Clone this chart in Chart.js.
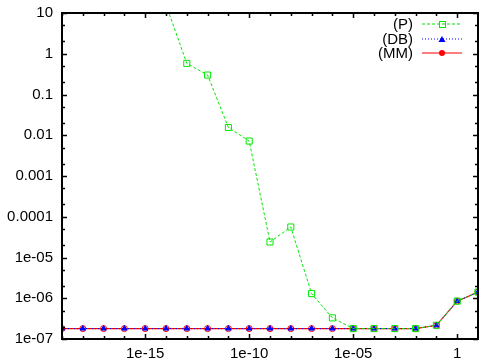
<!DOCTYPE html>
<html>
<head>
  <title>Log-log error plot</title>
  <style>
    html, body { margin: 0; padding: 0; background: #fff; }
    #wrap { width: 479px; height: 362px; }
  </style>
</head>
<body>
  <div id="wrap"><canvas id="errChart"></canvas></div>

  <script src="https://cdn.jsdelivr.net/npm/chart.js"></script>
  <script>
    // x positions: one per decade, 1e-19 .. 10
    const xValues = [1e-19, 1e-18, 1e-17, 1e-16, 1e-15, 1e-14, 1e-13, 1e-12, 1e-11, 1e-10,
                     1e-9, 1e-8, 1e-7, 1e-6, 1e-5, 1e-4, 1e-3, 1e-2, 1e-1, 1, 10];
    const pValues = [null, null, null, null, null, 16, 0.58, 0.30, 0.0155, 0.0072,
                     2.4e-5, 5.6e-5, 1.3e-6, 3.3e-7, 1.8e-7, 1.8e-7, 1.8e-7, 1.8e-7, 2.17e-7, 8.5e-7, 1.42e-6];
    const dbValues = [1.8e-7, 1.8e-7, 1.8e-7, 1.8e-7, 1.8e-7, 1.8e-7, 1.8e-7, 1.8e-7, 1.8e-7, 1.8e-7,
                      1.8e-7, 1.8e-7, 1.8e-7, 1.8e-7, 1.8e-7, 1.8e-7, 1.8e-7, 1.8e-7, 2.17e-7, 8.5e-7, 1.42e-6];
    const mmValues = [1.8e-7, 1.8e-7, 1.8e-7, 1.8e-7, 1.8e-7, 1.8e-7, 1.8e-7, 1.8e-7, 1.8e-7, 1.8e-7,
                      1.8e-7, 1.8e-7, 1.8e-7, 1.8e-7, 1.8e-7, 1.8e-7, 1.8e-7, 1.8e-7, 2.17e-7, 8.5e-7, 1.42e-6];
    const seriesNames = ['(P)', '(DB)', '(MM)'];
    const xTickLabels = { '-15': '1e-15', '-10': '1e-10', '-5': '1e-05', '0': '1' };
    const yTickLabels = ['1e-07', '1e-06', '1e-05', '0.0001', '0.001', '0.01', '0.1', '1', '10'];

    const FONT = '"Liberation Sans", Arial, sans-serif';

    function pts(ys) {
      return xValues.map((x, i) => ({ x: x, y: ys[i] }));
    }

    // gnuplot style frame with inward ticks and a legend in the top right
    const framePlugin = {
      id: 'frame',
      afterDraw(chart) {
        const ctx = chart.ctx;
        const a = chart.chartArea;
        const xs = chart.scales.x, ys = chart.scales.y;
        ctx.save();
        ctx.strokeStyle = '#000';
        ctx.lineWidth = 1.5;
        ctx.beginPath();
        for (let e = -19; e <= 1; e++) {
          const px = Math.round(xs.getPixelForValue(Math.pow(10, e))) + 0.5;
          const len = (e % 5 === 0) ? 5 : 3;
          ctx.moveTo(px, a.bottom); ctx.lineTo(px, a.bottom - len);
          ctx.moveTo(px, a.top); ctx.lineTo(px, a.top + len);
        }
        for (let e = -7; e <= 1; e++) {
          [1, 2, 5].forEach(m => {
            const v = m * Math.pow(10, e);
            if (v > 10.01) return;
            const py = Math.round(ys.getPixelForValue(v)) + 0.5;
            const len = m === 1 ? 5 : 3;
            ctx.moveTo(a.left, py); ctx.lineTo(a.left + len, py);
            ctx.moveTo(a.right, py); ctx.lineTo(a.right - len, py);
          });
        }
        ctx.stroke();
        ctx.lineWidth = 2;
        ctx.strokeRect(a.left, a.top, a.right - a.left, a.bottom - a.top);

        // legend
        const ds = chart.data.datasets;
        ctx.font = '15px ' + FONT;
        ctx.textAlign = 'right';
        ctx.textBaseline = 'middle';
        const rows = [24, 39, 53];
        ds.forEach((d, i) => {
          const y = rows[i];
          ctx.fillStyle = '#000';
          ctx.fillText(seriesNames[i], 413, y + 1);
          ctx.strokeStyle = d.borderColor;
          ctx.lineWidth = 1.2;
          ctx.setLineDash(d.borderDash || []);
          ctx.beginPath();
          ctx.moveTo(422, y); ctx.lineTo(462, y);
          ctx.stroke();
          ctx.setLineDash([]);
          const mx = 442;
          ctx.lineWidth = 1;
          ctx.beginPath();
          if (d.pointStyle === 'rect') {
            ctx.strokeStyle = d.pointBorderColor;
            ctx.strokeRect(mx - 2.5, y - 2.5, 6, 6);
          } else if (d.pointStyle === 'triangle') {
            ctx.fillStyle = d.pointBackgroundColor;
            ctx.moveTo(mx, y - 3); ctx.lineTo(mx + 3.5, y + 3); ctx.lineTo(mx - 3.5, y + 3);
            ctx.closePath(); ctx.fill();
          } else {
            ctx.fillStyle = d.pointBorderColor;
            ctx.arc(mx, y, 3, 0, Math.PI * 2);
            ctx.fill();
          }
        });
        ctx.restore();
      }
    };

    new Chart(document.getElementById('errChart'), {
      type: 'line',
      data: {
        datasets: [
          {
            label: seriesNames[0],
            data: pts(pValues),
            borderColor: '#00e800',
            borderWidth: 1,
            borderDash: [3, 2],
            pointStyle: 'rect',
            pointRadius: 4.3,
            pointBorderColor: '#00e800',
            pointBackgroundColor: 'rgba(0,0,0,0)',
            pointBorderWidth: 1,
            spanGaps: false
          },
          {
            label: seriesNames[1],
            data: pts(dbValues),
            borderColor: '#0000ff',
            borderWidth: 1,
            borderDash: [1, 2],
            pointStyle: 'triangle',
            pointRadius: 3,
            pointBorderColor: '#0000ff',
            pointBackgroundColor: '#0000ff',
            pointBorderWidth: 1
          },
          {
            label: seriesNames[2],
            data: pts(mmValues),
            borderColor: '#ff0000',
            borderWidth: 1.2,
            pointStyle: 'circle',
            pointRadius: 3,
            pointBorderColor: '#ff0000',
            pointBackgroundColor: 'rgba(0,0,0,0)',
            pointBorderWidth: 1
          }
        ]
      },
      plugins: [framePlugin],
      options: {
        responsive: true,
        maintainAspectRatio: false,
        animation: false,
        events: [],
        layout: { autoPadding: false, padding: { top: 13, right: 1, left: 0, bottom: 0 } },
        plugins: {
          legend: { display: false },
          tooltip: { enabled: false }
        },
        scales: {
          x: {
            type: 'logarithmic',
            min: 1e-19,
            max: 10,
            grid: { display: false, drawTicks: false },
            border: { display: false },
            afterBuildTicks(scale) {
              scale.ticks = xValues.map(v => ({ value: v }));
            },
            afterFit(scale) {
              scale.height = 23;
              scale.paddingLeft = 0;
              scale.paddingRight = 0;
            },
            ticks: {
              autoSkip: false,
              maxRotation: 0,
              padding: 6,
              color: '#000',
              font: { family: FONT, size: 15 },
              callback(value) {
                const e = Math.round(Math.log10(value));
                return xTickLabels[String(e)] || '';
              }
            }
          },
          y: {
            type: 'logarithmic',
            min: 1e-7,
            max: 10,
            grid: { display: false, drawTicks: false },
            border: { display: false },
            afterBuildTicks(scale) {
              scale.ticks = yTickLabels.map((t, i) => ({ value: Math.pow(10, i - 7) }));
            },
            afterFit(scale) {
              scale.width = 62;
              scale.paddingTop = 0;
              scale.paddingBottom = 0;
            },
            ticks: {
              autoSkip: false,
              padding: 9,
              color: '#000',
              font: { family: FONT, size: 15 },
              callback(value) {
                const i = Math.round(Math.log10(value)) + 7;
                return yTickLabels[i];
              }
            }
          }
        }
      }
    });
  </script>
</body>
</html>
